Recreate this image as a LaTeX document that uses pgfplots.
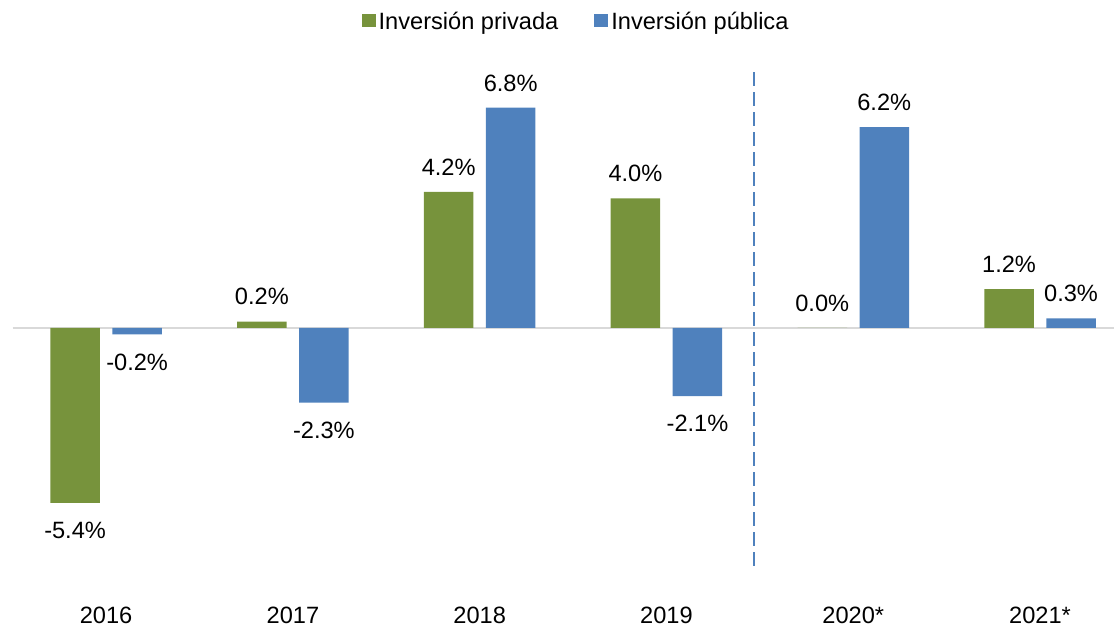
\documentclass[border=0pt]{standalone}
\usepackage{fontspec}
\setmainfont{Liberation Sans}
\usepackage{pgfplots}
\usepackage{pgfplotstable}
\pgfplotsset{compat=1.18}
\definecolor{cgreen}{HTML}{77933C}
\definecolor{cblue}{HTML}{4F81BD}
\definecolor{cgrid}{HTML}{D9D9D9}

\pgfplotstableread{
x y
0 -5.4
1 0.2
2 4.2
3 4.0
4 0.0
5 1.2
}\priv
\pgfplotstableread{
x y
0 -0.2
1 -2.3
2 6.8
3 -2.1
4 6.2
5 0.3
}\pub

\begin{document}
\begin{tikzpicture}[font=\fontsize{11.8}{14.2}\selectfont]
\begin{axis}[
  name=ax,
  scale only axis,
  width=550.65pt, height=275.4pt,
  xmin=-0.5, xmax=5.396,
  ymin=-8.5, ymax=8.5,
  clip=false,
  axis line style={draw=none},
  major tick length=0pt,
  ytick=\empty,
  xtick={0,1,2,3,4,5},
  xticklabels={2016,2017,2018,2019,2020*,2021*},
  xticklabel style={inner sep=0pt, anchor=north, yshift=-1.8pt},
  ybar, bar width=0.265,
  visualization depends on={ifthenelse(rawy<0,-1.5,0) \as \myshift},
  nodes near coords={\pgfmathprintnumber[fixed,fixed zerofill,precision=1,assume math mode=true]{\pgfplotspointmeta}\%},
  every node near coord/.append style={inner ysep=8pt, inner xsep=0pt, text=black, yshift=\myshift pt},
  legend columns=2,
  legend style={at={(0.512,1.055)}, anchor=center, draw=none, fill=none,
    nodes={inner sep=1.5pt},
    /tikz/every even column/.append style={column sep=16.5pt}},
  legend image code/.code={\fill[#1] (0pt,-2.3pt) rectangle (7pt,4.2pt);},
]
\draw[cgrid, line width=0.75pt] (axis cs:-0.5,0) -- (axis cs:5.396,0);
\addplot[fill=cgreen, draw=none, bar shift=-0.166] table[x=x,y=y] {\priv};
\addplot[fill=cblue, draw=none, bar shift=0.166] table[x=x,y=y] {\pub};
\legend{Inversión privada, Inversión pública}
\draw[cblue, line width=1pt, dash pattern=on 7pt off 3pt] (axis cs:3.47,7.9) -- (axis cs:3.47,-7.53);
\end{axis}
\pgfresetboundingbox
\path[use as bounding box] ([shift={(-6.35pt,-11.8pt)}]ax.south west) rectangle ++(557pt,313.5pt);
\end{tikzpicture}
\end{document}
